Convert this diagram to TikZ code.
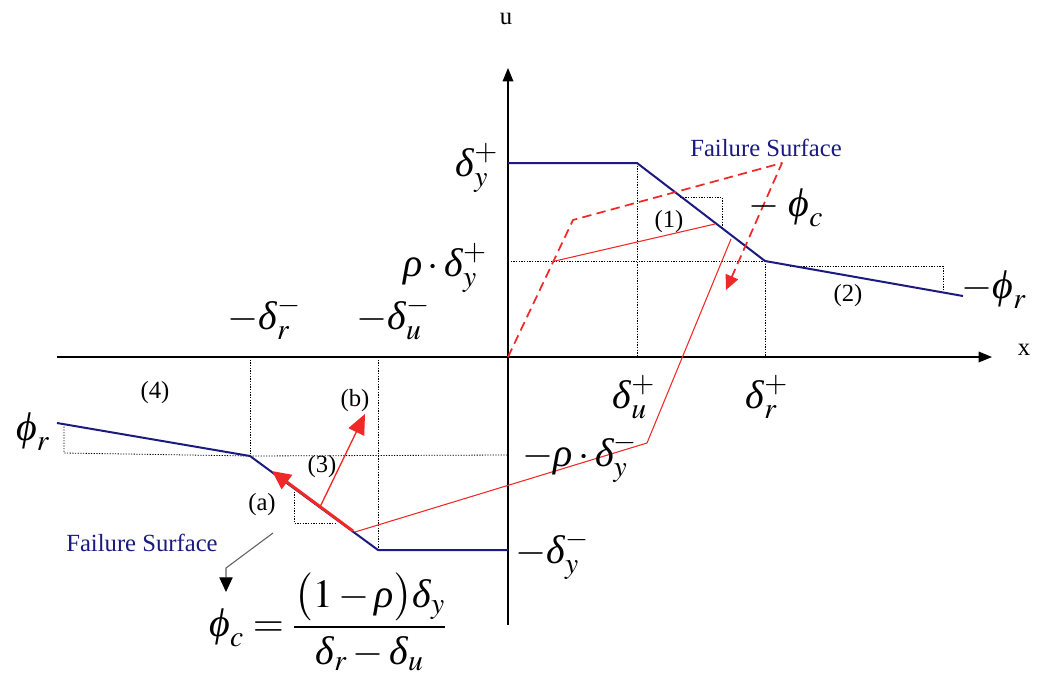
\documentclass[tikz,border=0pt]{standalone}
\usepackage{mathptmx}
\usepackage[no-math]{fontspec}
\setmainfont{Liberation Serif}
\usetikzlibrary{arrows.meta}
\definecolor{Fc}{HTML}{1A1A80}
\definecolor{Pc}{HTML}{F02828}
\definecolor{leader}{HTML}{606060}
\newcommand{\gd}{\mbox{\itshape δ}}
\newcommand{\gr}{\mbox{\itshape ρ}}
\newcommand{\gf}{\mbox{\itshape ϕ}}
\tikzset{
  axis/.style={-{Triangle[length=10pt,width=8pt]}, line width=0.9pt},
  fsurf/.style={Fc, line width=1.5pt, line join=round},
  load/.style={Pc, line width=0.8pt, line join=round},
  unload/.style={Pc, line width=1.3pt, dash pattern=on 7pt off 4pt, line join=round},
  guide/.style={black, line width=0.6pt, dash pattern=on 0.9pt off 1.1pt},
  lbl/.style={inner sep=0pt, font=\fontsize{18.5}{22}\selectfont},
  sym/.style={inner sep=0pt, font=\fontsize{30}{36}\selectfont},
}
\begin{document}
\begin{tikzpicture}[x=0.75pt, y=-0.75pt]
  \useasboundingbox (0,0) rectangle (1040,682);
  % axes
  \coordinate (o) at (508,357);
  \coordinate (xs) at (57,357);  \coordinate (xe) at (992,357);
  \coordinate (ys) at (508,625); \coordinate (ye) at (508,68);
  \draw[axis] (xs) -- (xe);
  \draw[axis] (ys) -- (ye);
  \node[lbl] (xlab) at (1024,350) {x};
  \node[lbl] (ulab) at (506,19) {u};
  % failure surface corners
  \coordinate (p1) at (508,163); \coordinate (p2) at (637,163);
  \coordinate (p3) at (765,261); \coordinate (p4) at (963,296);
  \coordinate (n1) at (57,423);  \coordinate (n2) at (250,456);
  \coordinate (n3) at (378,550); \coordinate (n4) at (508,550);
  % guide lines
  \draw[guide] (p2) -- (637,357);
  \draw[guide] (p3) -- (765,357);
  \draw[guide] (508,261) -- (p3);
  \draw[guide] (680,197) -- (722,197) -- (722,228);
  \draw[guide] (790,266) -- (943,266) -- (943,292);
  \draw[guide] (250,357) -- (n2);
  \draw[guide] (378,357) -- (n3);
  \draw[guide] (n2) -- (508,455);
  \draw[guide] (64,424) -- (64,453) -- (n2);
  \draw[guide] (294,489) -- (294,523) -- (337,523);
  % failure surface
  \draw[fsurf] (p1) -- (p2) -- (p3) -- (p4);
  \draw[fsurf] (n1) -- (n2) -- (n3) -- (n4);
  % loading path
  \coordinate (r1) at (573,220); \coordinate (r2) at (782,163);
  \coordinate (r3) at (726,290);
  \coordinate (r4) at (555,261); \coordinate (r5) at (715,224);
  \coordinate (r6) at (355,532); \coordinate (r7) at (647,443);
  \coordinate (r8) at (731,239);
  \draw[load] (r4) -- (r5);
  \draw[load] (r6) -- (r7) -- (r8);
  \draw[unload, -{Triangle[length=11pt,width=10pt]}] (o) -- (r1) -- (r2) -- (r3);
  \coordinate (a0) at (353,531); \coordinate (a1) at (272,471);
  \coordinate (b0) at (320,507); \coordinate (b1) at (365,414);
  \draw[Pc, line width=2.2pt, -{Triangle[length=14pt,width=13pt]}] (a0) -- (a1);
  \draw[Pc, line width=1pt, -{Triangle[length=15pt,width=13pt]}] (b0) -- (b1);
  % leader to formula
  \coordinate (l0) at (273,533); \coordinate (l1) at (226,568);
  \coordinate (l2) at (226,592);
  \draw[leader, line width=0.8pt, -{Triangle[length=11pt,width=10pt,fill=black,color=black]}] (l0) -- (l1) -- (l2);
  % labels
  \node[lbl, Fc] (fs1) at (766,148) {Failure Surface};
  \node[lbl, Fc] (fs2) at (142,543) {Failure Surface};
  \node[lbl] (c1) at (669,222) {(1)};
  \node[lbl] (c2) at (848,296) {(2)};
  \node[lbl] (c3) at (322,467) {(3)};
  \node[lbl] (c4) at (155,393) {(4)};
  \node[lbl] (ca) at (262,505) {(a)};
  \node[lbl] (cb) at (355,401) {(b)};
  \node[sym] (dyp) at (477,168) {$\gd_y^+$};
  \node[sym] (rdyp) at (445,268) {$\gr\cdot\gd_y^+$};
  \node[sym] (drn) at (264,318) {$-\gd_r^-$};
  \node[sym] (dun) at (393,318) {$-\gd_u^-$};
  \node[sym] (dup) at (634,397) {$\gd_u^+$};
  \node[sym] (drp) at (767,397) {$\gd_r^+$};
  \node[sym] (rdyn) at (580,458) {$-\gr\cdot\gd_y^-$};
  \node[sym] (dyn) at (552,555) {$-\gd_y^-$};
  \node[sym] (pc) at (786,208) {$-\;\gf_c$};
  \node[sym] (prn) at (994,290) {$-\gf_r$};
  \node[sym] (prp) at (33,432) {$\gf_r$};
  \node[sym] (phic) at (328,622)
    {$\displaystyle\gf_c=\frac{\bigl(1-\gr\bigr)\gd_y}{\gd_r-\gd_u}$};
\end{tikzpicture}
\end{document}
